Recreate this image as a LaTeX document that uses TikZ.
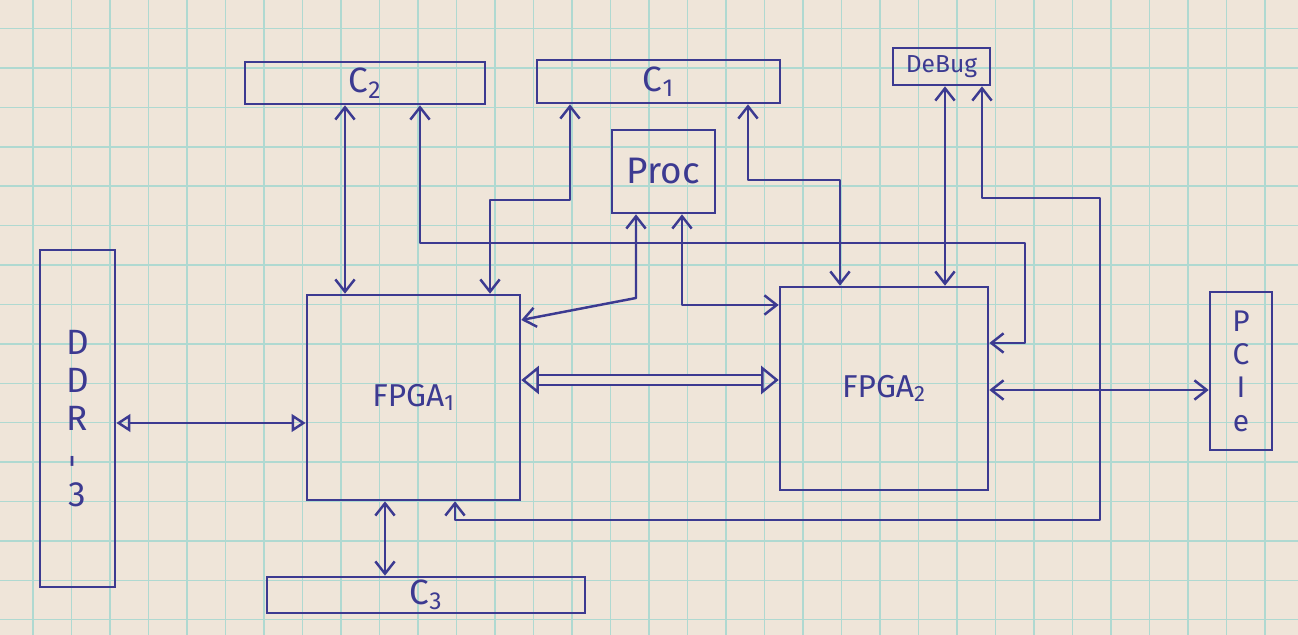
\documentclass[tikz,border=0pt]{standalone}
\usepackage{fontspec}
\setmainfont{Fira Sans}
\usetikzlibrary{arrows.meta}
\definecolor{ink}{RGB}{60,58,145}
\definecolor{paper}{RGB}{239,229,217}
\definecolor{gridc}{RGB}{175,217,209}
\begin{document}
\begin{tikzpicture}[x=0.02cm,y=-0.02cm,
  box/.style={draw=ink, line width=1.5pt, text=ink, inner sep=0pt, anchor=center},
  link/.style={draw=ink, line width=1.4pt, line join=round,
    {Straight Barb[length=7pt,width=11pt]}-{Straight Barb[length=7pt,width=11pt]}},
  trilink/.style={draw=ink, line width=1.4pt,
    {Triangle[open,length=8pt,width=10pt]}-{Triangle[open,length=8pt,width=10pt]}},
  dbllink/.style={draw=ink, line width=1.4pt, double=paper, double distance=4.5pt,
    {Triangle[open,length=10pt,width=16pt]}-{Triangle[open,length=10pt,width=16pt]}},
]
\useasboundingbox (0,0) rectangle (1298,635);
\fill[paper] (0,0) rectangle (1298,635);
\foreach \i in {0,...,34} \draw[gridc, line width=0.8pt] ({33+38.5*(\i-1)},0) -- ++(0,635);
\foreach \i in {0,...,15} \draw[gridc, line width=0.8pt] (0,{28.6+39.4*\i}) -- ++(1298,0);

% boxes
\node[box, minimum width=4.8cm, minimum height=0.84cm, font=\fontsize{20}{22}\selectfont] (c2) at (365,83) {C\textsubscript{2}};
\node[box, minimum width=4.86cm, minimum height=0.86cm, font=\fontsize{20}{22}\selectfont] (c1) at (658.5,81.5) {C\textsubscript{1}};
\node[box, minimum width=1.94cm, minimum height=0.74cm, font=\fontsize{14}{16}\selectfont] (dbg) at (941.5,66.5) {DeBug};
\node[box, minimum width=2.06cm, minimum height=1.66cm, font=\fontsize{21}{23}\selectfont] (proc) at (663.5,171.5) {Proc};
\node[box, minimum width=4.26cm, minimum height=4.1cm, font=\fontsize{18}{20}\selectfont] (f1) at (413.5,397.5) {FPGA\textsubscript{1}};
\node[box, minimum width=4.16cm, minimum height=4.06cm, font=\fontsize{18}{20}\selectfont] (f2) at (884,388.5) {FPGA\textsubscript{2}};
\node[box, minimum width=1.5cm, minimum height=6.74cm, align=center, font=\fontsize{20}{21.6}\selectfont] (ddr) at (77.5,418.5) {D\\D\\R\\\rotatebox{90}{-}\\3};
\node[box, minimum width=1.24cm, minimum height=3.16cm, align=center, font=\fontsize{17}{19}\selectfont] (pcie) at (1241,371) {P\\C\\I\\e};
\node[box, minimum width=6.36cm, minimum height=0.72cm, font=\fontsize{20}{22}\selectfont] (c3) at (426,595) {C\textsubscript{3}};

% helper coordinates
\coordinate (a1) at (345,0);
\coordinate (b1) at (420,243);
\coordinate (b2) at (1025,243);
\coordinate (b3) at (1025,343);
\coordinate (c3a) at (570,200);
\coordinate (c3b) at (490,200);
\coordinate (d1) at (748,180);
\coordinate (d2) at (840,180);
\coordinate (e1) at (636,298);
\coordinate (e2) at (0,320);
\coordinate (g1) at (682,305);
\coordinate (h1) at (0,380);
\coordinate (i1) at (0,423);
\coordinate (j1) at (945,0);
\coordinate (m1) at (982,198);
\coordinate (m2) at (1100,198);
\coordinate (m3) at (1100,520);
\coordinate (m4) at (455,520);
\coordinate (n1) at (0,390);
\coordinate (o1) at (385,0);

% connectors
\draw[link] (c2.south -| a1) -- (f1.north -| a1);
\draw[link] (c2.south -| b1) -- (b1) -- (b2) -- (b3) -- (f2.east |- b3);
\draw[link] (c1.south -| c3a) -- (c3a) -- (c3b) -- (f1.north -| c3b);
\draw[link] (c1.south -| d1) -- (d1) -- (d2) -- (f2.north -| d2);
\draw[link] (proc.south -| e1) -- (e1) -- (f1.east |- e2);
\draw[link] (proc.south -| g1) -- (g1) -- (f2.west |- g1);
\draw[dbllink] (f1.east |- h1) -- (f2.west |- h1);
\draw[trilink] (ddr.east |- i1) -- (f1.west |- i1);
\draw[link] (dbg.south -| j1) -- (f2.north -| j1);
\draw[link] (dbg.south -| m1) -- (m1) -- (m2) -- (m3) -- (m4) -- (f1.south -| m4);
\draw[link] (f2.east |- n1) -- (pcie.west |- n1);
\draw[link] (f1.south -| o1) -- (c3.north -| o1);
\end{tikzpicture}
\end{document}
